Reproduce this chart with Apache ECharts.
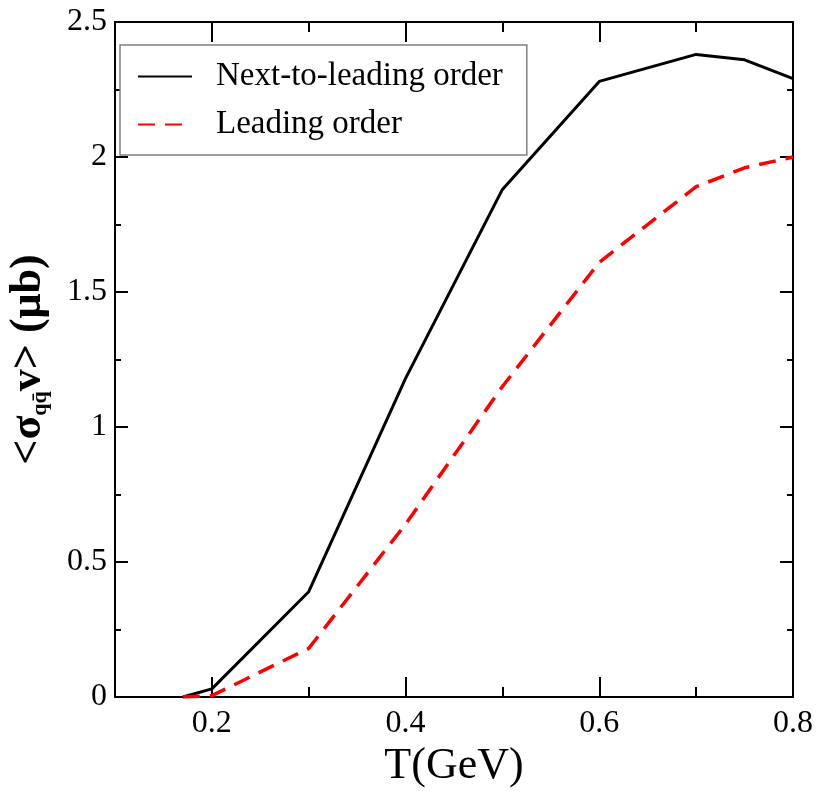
<!DOCTYPE html>
<html>
<head>
<meta charset="utf-8">
<script src="https://cdn.jsdelivr.net/npm/echarts@6/dist/echarts.min.js"></script>
<style>
html,body{margin:0;padding:0;background:#fff;}
#c{width:817px;height:791px;}
</style>
</head>
<body>
<div id="c"></div>
<script>
// Data
var temps = [0.17, 0.2, 0.3, 0.4, 0.5, 0.6, 0.7, 0.75, 0.8];
var nloValues = [0, 0.03, 0.39, 1.18, 1.88, 2.28, 2.38, 2.36, 2.29];
var loValues = [0, 0.005, 0.18, 0.64, 1.15, 1.61, 1.89, 1.96, 2.0];
var xMajorTicks = [0.2, 0.4, 0.6, 0.8];
var xMinorTicks = [0.1, 0.3, 0.5, 0.7];
var seriesNames = ['Next-to-leading order', 'Leading order'];

function pairs(xs, ys) { return xs.map(function (x, i) { return [x, ys[i]]; }); }

var serif = 'Liberation Serif';
var black = '#000000';

function xAxisDef(pos, ticks, len, showLine, showLabel) {
  return {
    type: 'value', position: pos, min: 0.1, max: 0.8,
    splitLine: { show: false },
    axisLine: { show: showLine, onZero: false, lineStyle: { color: black, width: 2 } },
    axisTick: { show: true, inside: true, length: len, customValues: ticks, lineStyle: { color: black, width: 2 } },
    axisLabel: { show: showLabel, customValues: ticks, margin: 11, color: black, fontFamily: serif, fontSize: 32 }
  };
}

var xBottom = xAxisDef('bottom', xMajorTicks, 20, true, true);
xBottom.name = 'T(GeV)';
xBottom.nameLocation = 'middle';
xBottom.nameGap = 40;
xBottom.nameTextStyle = { color: black, fontFamily: serif, fontSize: 44, lineHeight: 44 };

function yAxisDef(pos, showLabel) {
  return {
    type: 'value', position: pos, min: 0, max: 2.5, interval: 0.5,
    splitLine: { show: false },
    axisLine: { show: true, lineStyle: { color: black, width: 2 } },
    axisTick: { show: true, inside: true, length: 13, lineStyle: { color: black, width: 2 } },
    minorTick: { show: true, splitNumber: 2, length: 6, lineStyle: { color: black, width: 2 } },
    axisLabel: { show: showLabel, margin: 8, color: black, fontFamily: serif, fontSize: 32 }
  };
}
var yLeft = yAxisDef('left', true);
yLeft.name = '{a|<σ}{s|qq\u0304}{a|v> (μb)}';
yLeft.nameLocation = 'middle';
yLeft.nameRotate = 90;
yLeft.nameGap = 64;
yLeft.nameTextStyle = {
  rich: {
    a: { fontFamily: serif, fontWeight: 'bold', fontSize: 44, color: black, lineHeight: 44 },
    s: { fontFamily: serif, fontWeight: 'bold', fontSize: 22, color: black, lineHeight: 22, verticalAlign: 'bottom' }
  }
};

var chart = echarts.init(document.getElementById('c'));
chart.setOption({
  animation: false,
  grid: { left: 115, right: 24, top: 22, bottom: 94, containLabel: false, outerBoundsMode: 'none' },
  legend: {
    show: true, orient: 'vertical', left: 120, top: 45, align: 'left',
    padding: [15, 24, 14, 17], itemGap: 15, itemWidth: 54, itemHeight: 14,
    backgroundColor: '#ffffff', borderColor: '#808080', borderWidth: 1.5, borderRadius: 0,
    itemStyle: { opacity: 0 },
    textStyle: { color: black, fontFamily: serif, fontSize: 33, padding: [0, 0, 0, 19] },
    data: seriesNames,
    z: 10
  },
  xAxis: [
    xBottom,
    xAxisDef('bottom', xMinorTicks, 10, false, false),
    xAxisDef('top', xMajorTicks, 20, true, false),
    xAxisDef('top', xMinorTicks, 10, false, false)
  ],
  yAxis: [yLeft, yAxisDef('right', false)],
  series: [
    {
      name: seriesNames[0], type: 'line', xAxisIndex: 0, yAxisIndex: 0,
      data: pairs(temps, nloValues), symbol: 'none',
      lineStyle: { color: black, width: 3 }, itemStyle: { color: black }
    },
    {
      name: seriesNames[1], type: 'line', xAxisIndex: 0, yAxisIndex: 0,
      data: pairs(temps, loValues), symbol: 'none',
      lineStyle: { color: '#ff0000', width: 3.5, type: [17, 10] }, itemStyle: { color: '#ff0000' }
    }
  ]
});
</script>
</body>
</html>
